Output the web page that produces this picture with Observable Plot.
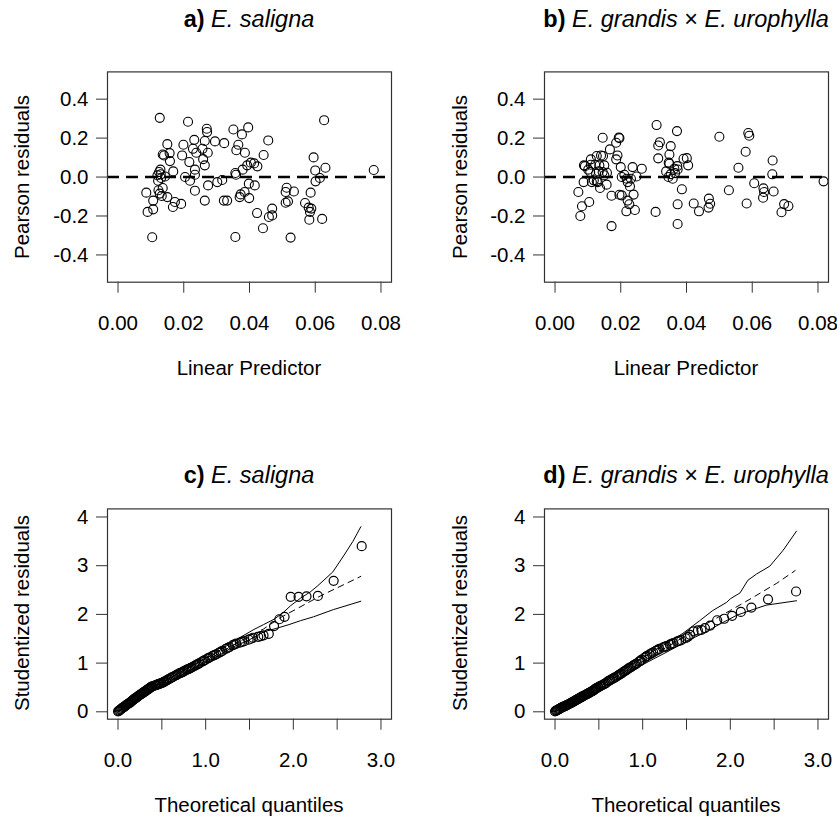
<!DOCTYPE html>
<html><head><meta charset="utf-8">
<script src="https://cdn.jsdelivr.net/npm/d3@7"></script>
<script src="https://cdn.jsdelivr.net/npm/@observablehq/plot@0.6"></script>
<style>
body{margin:0;background:#fff;}
#chart{position:relative;width:837px;height:818px;overflow:hidden;font-family:"Liberation Sans",Arial,sans-serif;color:#000;}
.t{position:absolute;white-space:nowrap;line-height:1;}
.title{font-size:23.5px;transform:translate(-50%,-50%);}
.xlab{font-size:20.5px;transform:translate(-50%,-50%);}
.ylab{font-size:20.5px;transform:translate(-50%,-50%) rotate(-90deg);}
.panel{position:absolute;}
</style></head>
<body><div id="chart"></div>
<script>
// ---------- data ----------
const panelTitles = [
  ["a)", "E. saligna"],
  ["b)", "E. grandis \u00d7 E. urophylla"],
  ["c)", "E. saligna"],
  ["d)", "E. grandis \u00d7 E. urophylla"]
];
const xLabelTop = "Linear Predictor";
const yLabelTop = "Pearson residuals";
const xLabelBottom = "Theoretical quantiles";
const yLabelBottom = "Studentized residuals";

const residTicksX = [0, 0.02, 0.04, 0.06, 0.08];
const residTicksY = [-0.4, -0.2, 0, 0.2, 0.4];
const qqTicksX = [0, 0.5, 1, 1.5, 2, 2.5, 3];
const qqTicksY = [0, 1, 2, 3, 4];

// a) E. saligna: [linear predictor, Pearson residual]
const salignaResid = [
  [0.0127,0.304],[0.0213,0.284],[0.0627,0.292],[0.0270,0.248],[0.0271,0.231],[0.0351,0.244],[0.0396,0.255],
  [0.0377,0.219],[0.0232,0.191],[0.0264,0.185],[0.0295,0.183],[0.0323,0.174],[0.0457,0.188],[0.0150,0.169],
  [0.0199,0.166],[0.0366,0.166],[0.0228,0.145],[0.0257,0.145],[0.0238,0.125],[0.0273,0.125],[0.0157,0.123],
  [0.0136,0.116],[0.0140,0.111],[0.0195,0.111],[0.0360,0.138],[0.0386,0.125],[0.0443,0.113],[0.0595,0.101],
  [0.0158,0.082],[0.0217,0.077],[0.0259,0.092],[0.0264,0.060],[0.0404,0.074],[0.0393,0.060],[0.0424,0.055],
  [0.0379,0.038],[0.0234,0.038],[0.0168,0.029],[0.0129,0.038],[0.0125,0.026],[0.0130,0.014],[0.0143,0.003],
  [0.0120,0.009],[0.0600,0.034],[0.0631,0.048],[0.0778,0.036],[0.0234,0.012],[0.0204,0.000],[0.0357,0.021],
  [0.0359,0.012],[0.0219,-0.019],[0.0614,-0.005],[0.0601,-0.022],[0.0122,-0.019],[0.0274,-0.043],[0.0302,-0.026],
  [0.0317,-0.015],[0.0398,-0.034],[0.0416,-0.043],[0.0513,-0.055],[0.0234,-0.070],[0.0086,-0.080],[0.0123,-0.068],
  [0.0136,-0.056],[0.0127,-0.085],[0.0133,-0.097],[0.0150,-0.103],[0.0510,-0.077],[0.0535,-0.074],[0.0586,-0.080],
  [0.0385,-0.077],[0.0373,-0.089],[0.0370,-0.103],[0.0399,-0.108],[0.0107,-0.121],[0.0264,-0.121],[0.0322,-0.121],
  [0.0332,-0.121],[0.0173,-0.128],[0.0192,-0.138],[0.0167,-0.154],[0.0510,-0.132],[0.0517,-0.125],[0.0569,-0.133],
  [0.0469,-0.162],[0.0580,-0.157],[0.0588,-0.162],[0.0584,-0.179],[0.0107,-0.166],[0.0090,-0.179],[0.0423,-0.185],
  [0.0459,-0.205],[0.0469,-0.197],[0.0582,-0.219],[0.0621,-0.215],[0.0441,-0.263],[0.0104,-0.309],[0.0357,-0.308],
  [0.0525,-0.311],[0.0131,-0.005],[0.0414,0.070]
];

// b) E. grandis x E. urophylla: [linear predictor, Pearson residual]
const hybridResid = [
  [0.0309,0.267],[0.0371,0.236],[0.0500,0.207],[0.0588,0.226],[0.0591,0.212],[0.0145,0.202],[0.0194,0.203],
  [0.0186,0.176],[0.0167,0.142],[0.0319,0.179],[0.0314,0.162],[0.0352,0.159],[0.0580,0.130],[0.0146,0.108],
  [0.0190,0.111],[0.0186,0.091],[0.0109,0.091],[0.0127,0.108],[0.0140,0.111],[0.0314,0.096],[0.0348,0.116],
  [0.0401,0.097],[0.0405,0.060],[0.0346,0.074],[0.0662,0.085],[0.0558,0.048],[0.0661,0.014],[0.0088,0.060],
  [0.0109,0.063],[0.0122,0.063],[0.0135,0.060],[0.0150,0.060],[0.0200,0.051],[0.0236,0.051],[0.0264,0.043],
  [0.0101,0.038],[0.0158,0.022],[0.0107,0.026],[0.0125,0.017],[0.0133,0.029],[0.0145,0.026],[0.0150,0.009],
  [0.0118,-0.017],[0.0130,-0.026],[0.0087,-0.026],[0.0112,-0.026],[0.0211,0.012],[0.0203,0.000],[0.0218,-0.009],
  [0.0231,-0.009],[0.0248,0.003],[0.0221,-0.026],[0.0228,-0.048],[0.0363,0.043],[0.0338,0.029],[0.0345,0.000],
  [0.0358,-0.009],[0.0373,0.039],[0.0352,0.015],[0.0365,0.020],[0.0348,0.068],[0.0372,0.056],[0.0817,-0.022],
  [0.0127,-0.022],[0.0157,-0.039],[0.0137,-0.056],[0.0606,-0.032],[0.0386,-0.063],[0.0529,-0.068],[0.0634,-0.058],
  [0.0636,-0.077],[0.0665,-0.074],[0.0071,-0.077],[0.0172,-0.096],[0.0196,-0.091],[0.0203,-0.094],[0.0239,-0.090],
  [0.0633,-0.106],[0.0221,-0.121],[0.0226,-0.140],[0.0104,-0.128],[0.0468,-0.111],[0.0422,-0.136],[0.0373,-0.140],
  [0.0472,-0.137],[0.0467,-0.157],[0.0583,-0.136],[0.0697,-0.139],[0.0710,-0.149],[0.0082,-0.150],[0.0217,-0.176],
  [0.0243,-0.169],[0.0306,-0.179],[0.0438,-0.176],[0.0689,-0.181],[0.0077,-0.200],[0.0172,-0.252],[0.0373,-0.241],
  [0.0391,0.094],[0.0196,0.200],[0.0091,0.056]
];

// c) E. saligna: [theoretical quantile, studentized residual]
const salignaQQ = [
  [0.00,0.01],[0.01,0.02],[0.02,0.035],[0.03,0.05],[0.04,0.065],[0.05,0.08],[0.06,0.09],[0.07,0.10],[0.08,0.115],
  [0.09,0.13],[0.10,0.145],[0.11,0.16],[0.12,0.17],[0.13,0.18],[0.14,0.195],[0.15,0.21],[0.16,0.225],[0.17,0.24],
  [0.18,0.255],[0.19,0.27],[0.20,0.28],[0.21,0.29],[0.22,0.305],[0.23,0.32],[0.24,0.335],[0.25,0.35],[0.26,0.36],
  [0.27,0.37],[0.28,0.385],[0.29,0.40],[0.30,0.41],[0.31,0.42],[0.32,0.435],[0.33,0.45],[0.34,0.46],[0.35,0.47],
  [0.36,0.485],[0.37,0.50],[0.38,0.51],[0.39,0.52],[0.405,0.53],[0.42,0.54],[0.43,0.545],[0.44,0.55],[0.45,0.56],
  [0.46,0.57],[0.47,0.575],[0.48,0.58],[0.495,0.59],[0.51,0.60],[0.52,0.61],[0.53,0.62],[0.55,0.64],[0.565,0.655],
  [0.58,0.67],[0.60,0.69],[0.615,0.705],[0.63,0.72],[0.65,0.74],[0.665,0.755],[0.68,0.77],[0.70,0.79],[0.715,0.80],
  [0.73,0.81],[0.745,0.825],[0.76,0.84],[0.78,0.86],[0.795,0.87],[0.81,0.88],[0.825,0.895],[0.84,0.91],[0.855,0.925],
  [0.87,0.94],[0.885,0.955],[0.90,0.97],[0.915,0.985],[0.93,1.00],[0.96,1.03],[0.975,1.045],[0.99,1.06],[1.02,1.09],
  [1.035,1.105],[1.05,1.12],[1.08,1.15],[1.10,1.165],[1.12,1.18],[1.15,1.21],[1.17,1.23],[1.19,1.25],[1.23,1.29],
  [1.25,1.31],[1.27,1.33],[1.31,1.37],[1.33,1.385],[1.35,1.40],[1.39,1.42],[1.415,1.435],[1.44,1.45],[1.49,1.48],
  [1.515,1.50],[1.54,1.52],[1.60,1.54],[1.63,1.555],[1.66,1.57],[1.72,1.60],[1.78,1.76],[1.84,1.90],[1.90,1.95],
  [1.97,2.36],[2.06,2.36],[2.15,2.37],[2.28,2.38],[2.46,2.69],[2.78,3.40]
];
const salignaUpper = [[0,0.02],[0.3,0.40],[0.6,0.70],[0.9,1.00],[1.1,1.19],[1.32,1.45],[1.55,1.69],[1.66,1.79],
  [1.78,1.90],[1.88,2.03],[1.97,2.18],[2.08,2.33],[2.20,2.47],[2.28,2.59],[2.45,2.87],[2.58,3.22],[2.68,3.50],[2.77,3.80]];
const salignaLower = [[0,0.0],[0.3,0.36],[0.6,0.64],[0.9,0.92],[1.1,1.10],[1.3,1.32],[1.5,1.48],[1.66,1.64],
  [1.82,1.72],[1.95,1.79],[2.08,1.87],[2.23,1.95],[2.46,2.10],[2.77,2.27]];
const salignaMid = [[0,0],[0.5,0.52],[1.0,1.04],[1.5,1.56],[1.66,1.70],[1.85,1.93],[2.31,2.38],[2.77,2.78]];

// d) E. grandis x E. urophylla: [theoretical quantile, studentized residual]
const hybridQQ = [
  [0.00,0.01],[0.01,0.02],[0.02,0.03],[0.03,0.04],[0.04,0.05],[0.05,0.06],[0.06,0.07],[0.07,0.08],[0.08,0.09],
  [0.09,0.10],[0.10,0.105],[0.11,0.11],[0.12,0.12],[0.13,0.13],[0.14,0.14],[0.15,0.15],[0.16,0.16],[0.17,0.17],
  [0.18,0.18],[0.19,0.19],[0.20,0.20],[0.21,0.21],[0.22,0.22],[0.23,0.23],[0.24,0.24],[0.25,0.25],[0.26,0.26],
  [0.27,0.27],[0.28,0.28],[0.29,0.29],[0.30,0.30],[0.31,0.31],[0.32,0.32],[0.33,0.33],[0.34,0.34],[0.35,0.35],
  [0.36,0.36],[0.37,0.37],[0.38,0.38],[0.39,0.39],[0.405,0.405],[0.42,0.42],[0.43,0.43],[0.44,0.44],[0.45,0.455],
  [0.46,0.47],[0.47,0.48],[0.48,0.49],[0.495,0.505],[0.51,0.52],[0.52,0.53],[0.53,0.54],[0.55,0.56],[0.565,0.575],
  [0.58,0.59],[0.60,0.62],[0.615,0.635],[0.63,0.65],[0.65,0.67],[0.665,0.685],[0.68,0.70],[0.70,0.72],[0.715,0.74],
  [0.73,0.76],[0.745,0.775],[0.76,0.79],[0.78,0.82],[0.795,0.835],[0.81,0.85],[0.825,0.87],[0.84,0.89],[0.855,0.905],
  [0.87,0.92],[0.885,0.94],[0.90,0.96],[0.915,0.975],[0.93,0.99],[0.96,1.03],[0.975,1.05],[0.99,1.07],[1.02,1.11],
  [1.035,1.13],[1.05,1.15],[1.08,1.18],[1.10,1.20],[1.12,1.22],[1.15,1.25],[1.17,1.27],[1.19,1.29],[1.23,1.32],
  [1.25,1.335],[1.27,1.35],[1.31,1.38],[1.33,1.395],[1.35,1.41],[1.39,1.44],[1.415,1.455],[1.44,1.47],[1.49,1.51],
  [1.515,1.54],[1.54,1.58],[1.58,1.65],[1.63,1.67],[1.67,1.68],[1.71,1.72],[1.77,1.77],[1.85,1.88],
  [1.93,1.91],[2.02,1.97],[2.12,2.05],[2.24,2.14],[2.43,2.31],[2.75,2.47]
];
const hybridUpper = [[0,0.03],[0.3,0.35],[0.6,0.66],[0.9,1.0],[1.2,1.33],[1.45,1.60],[1.54,1.72],[1.65,1.87],
  [1.80,2.08],[1.96,2.25],[2.0,2.32],[2.11,2.44],[2.20,2.70],[2.30,2.83],[2.45,2.99],[2.60,3.31],[2.755,3.71]];
const hybridLower = [[0,0.0],[0.3,0.28],[0.65,0.61],[0.95,0.92],[1.14,1.10],[1.3,1.25],[1.5,1.45],[1.7,1.62],
  [1.88,1.80],[2.07,1.98],[2.26,2.10],[2.41,2.19],[2.755,2.28]];
const hybridMid = [[0,0],[1.0,1.03],[1.6,1.68],[2.0,2.08],[2.25,2.34],[2.53,2.64],[2.74,2.90]];

// ---------- drawing ----------
const chart = document.getElementById("chart");
const FONT = '"Liberation Sans", Arial, Helvetica, sans-serif';
const X = d => d[0], Y = d => d[1];

function panel({left, top, width, marginRight, xDomain, yDomain, xTicks, xFmt, yTicks, yFmt, marks}) {
  const svg = Plot.plot({
    width, height: 400,
    marginTop: 71.4, marginLeft: 107, marginRight, marginBottom: 118.3,
    x: {domain: xDomain}, y: {domain: yDomain},
    style: {fontSize: "20.5px", fontFamily: FONT, background: "transparent", color: "#000", overflow: "visible"},
    marks: [
      ...marks,
      Plot.frame({stroke: "#333", strokeWidth: 1.2}),
      Plot.axisX({ticks: xTicks, tickFormat: xFmt, tickSize: 11, tickPadding: 22, stroke: "#333", label: null}),
      Plot.axisY({ticks: yTicks, tickFormat: yFmt, tickSize: 11, tickPadding: 8, stroke: "#333", label: null})
    ]
  });
  svg.classList.add("panel");
  svg.style.left = left + "px";
  svg.style.top = top + "px";
  chart.appendChild(svg);
}

function residMarks(data) {
  return [
    Plot.ruleY([0], {stroke: "#000", strokeWidth: 2.6, strokeDasharray: "12,7"}),
    Plot.dot(data, {x: X, y: Y, r: 4.5, stroke: "#000", strokeWidth: 1.1, fill: "none"})
  ];
}
function qqMarks(data, upper, lower, mid) {
  return [
    Plot.line(upper, {x: X, y: Y, stroke: "#000", strokeWidth: 1}),
    Plot.line(lower, {x: X, y: Y, stroke: "#000", strokeWidth: 1}),
    Plot.line(mid, {x: X, y: Y, stroke: "#000", strokeWidth: 1, strokeDasharray: "6,5"}),
    Plot.dot(data, {x: X, y: Y, r: 4.5, stroke: "#000", strokeWidth: 1.2, fill: "none"})
  ];
}

const residX = [-0.0032, 0.0832], residY = [-0.54, 0.54];
const qqX = [-0.12, 3.12], qqY = [-0.152, 4.166];
const fmt2 = d => d.toFixed(2), fmt1 = d => d.toFixed(1);
const qqFmtX = d => (Math.abs(d % 1) < 1e-9 ? d.toFixed(1) : "");
const qqFmtY = d => String(d);

panel({left: 0, top: 0, width: 418, marginRight: 27, xDomain: residX, yDomain: residY,
  xTicks: residTicksX, xFmt: fmt2, yTicks: residTicksY, yFmt: fmt1, marks: residMarks(salignaResid)});
panel({left: 437, top: 0, width: 400, marginRight: 9, xDomain: residX, yDomain: residY,
  xTicks: residTicksX, xFmt: fmt2, yTicks: residTicksY, yFmt: fmt1, marks: residMarks(hybridResid)});
panel({left: 0, top: 437, width: 418, marginRight: 27, xDomain: qqX, yDomain: qqY,
  xTicks: qqTicksX, xFmt: qqFmtX, yTicks: qqTicksY, yFmt: qqFmtY, marks: qqMarks(salignaQQ, salignaUpper, salignaLower, salignaMid)});
panel({left: 437, top: 437, width: 400, marginRight: 9, xDomain: qqX, yDomain: qqY,
  xTicks: qqTicksX, xFmt: qqFmtX, yTicks: qqTicksY, yFmt: qqFmtY, marks: qqMarks(hybridQQ, hybridUpper, hybridLower, hybridMid)});

// text labels
function addText(cls, x, y, html) {
  const d = document.createElement("div");
  d.className = "t " + cls;
  d.style.left = x + "px";
  d.style.top = y + "px";
  d.innerHTML = html;
  chart.appendChild(d);
}
const titlePos = [[249, 20], [686, 20], [249, 476], [686, 476]];
panelTitles.forEach(([tag, sp], i) => {
  const spHtml = sp.split(" \u00d7 ").map(s => `<i>${s}</i>`).join(" \u00d7 ");
  addText("title", titlePos[i][0], titlePos[i][1], `<b>${tag}</b> ${spHtml}`);
});
addText("xlab", 249, 368, xLabelTop);
addText("xlab", 686, 368, xLabelTop);
addText("xlab", 249, 805, xLabelBottom);
addText("xlab", 686, 805, xLabelBottom);
addText("ylab", 22, 176.5, yLabelTop);
addText("ylab", 460, 176.5, yLabelTop);
addText("ylab", 22, 613, yLabelBottom);
addText("ylab", 460, 613, yLabelBottom);
</script></body></html>
